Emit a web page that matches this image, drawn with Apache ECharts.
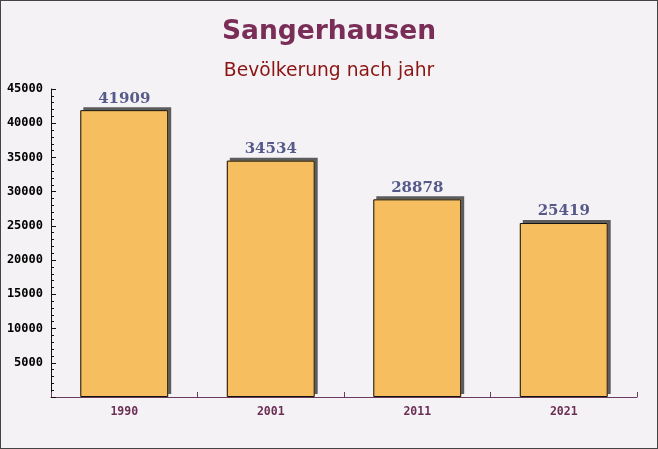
<!DOCTYPE html>
<html><head><meta charset="utf-8">
<script src="https://cdn.jsdelivr.net/npm/echarts@6/dist/echarts.min.js"></script>
<style>html,body{margin:0;padding:0;background:#f4f2f4;}#c{width:656px;height:447px;border:1px solid #444;}</style>
</head><body><div id="c"></div>
<script>
const years = ['1990', '2001', '2011', '2021'];
const population = [41909, 34534, 28878, 25419];
const yTicks = { min: 0, max: 45000, interval: 5000 };
const titleText = 'Sangerhausen';
const subtitleText = 'Bevölkerung nach jahr';

const chart = echarts.init(document.getElementById('c'));
chart.setOption({
  backgroundColor: '#f4f2f4',
  animation: false,
  title: [
    { text: titleText, left: 'center', top: 13,
      textStyle: { fontFamily: 'DejaVu Sans', fontWeight: 'bold', fontSize: 26.5, color: '#792d57' } },
    { text: subtitleText, left: 'center', top: 56,
      textStyle: { fontFamily: 'DejaVu Sans', fontWeight: 'normal', fontSize: 18.7, color: '#8b1414' } }
  ],
  grid: { left: 50, right: 20, top: 88, bottom: 51, containLabel: false },
  xAxis: {
    type: 'category', data: years,
    axisLine: { lineStyle: { color: '#6b3a5e', width: 1 } },
    axisTick: { show: true, inside: true, length: 5, lineStyle: { color: '#6b3a5e' } },
    axisLabel: { fontFamily: 'DejaVu Sans Mono', fontWeight: 'bold', fontSize: 11.5, color: '#6b2f55', margin: 9 }
  },
  yAxis: {
    type: 'value', min: yTicks.min, max: yTicks.max, interval: yTicks.interval,
    axisLine: { show: true, lineStyle: { color: '#111', width: 1 } },
    axisTick: { show: true, inside: true, length: 5, lineStyle: { color: '#111' } },
    minorTick: { show: true, splitNumber: 5, length: 3, lineStyle: { color: '#111' } },
    splitLine: { show: false },
    axisLabel: { showMinLabel: false, formatter: v => String(v),
      fontFamily: 'DejaVu Sans Mono', fontWeight: 'bold', fontSize: 12, color: '#000', margin: 8 }
  },
  series: [
    {
      type: 'bar', data: population, barWidth: '60%', silent: true, z: 1,
      itemStyle: {
        color: '#f6be5e', borderWidth: 0,
        shadowColor: '#5c5c5c', shadowBlur: 0, shadowOffsetX: 3, shadowOffsetY: -3
      }
    },
    {
      type: 'bar', data: population, barWidth: '60%', barGap: '-100%', z: 2,
      itemStyle: { color: 'rgba(0,0,0,0)', borderColor: '#111', borderWidth: 1 },
      label: { show: true, position: 'top', distance: 4,
        fontFamily: 'DejaVu Serif', fontWeight: 'bold', fontSize: 15, color: '#565a8a' }
    }
  ]
});
</script></body></html>
